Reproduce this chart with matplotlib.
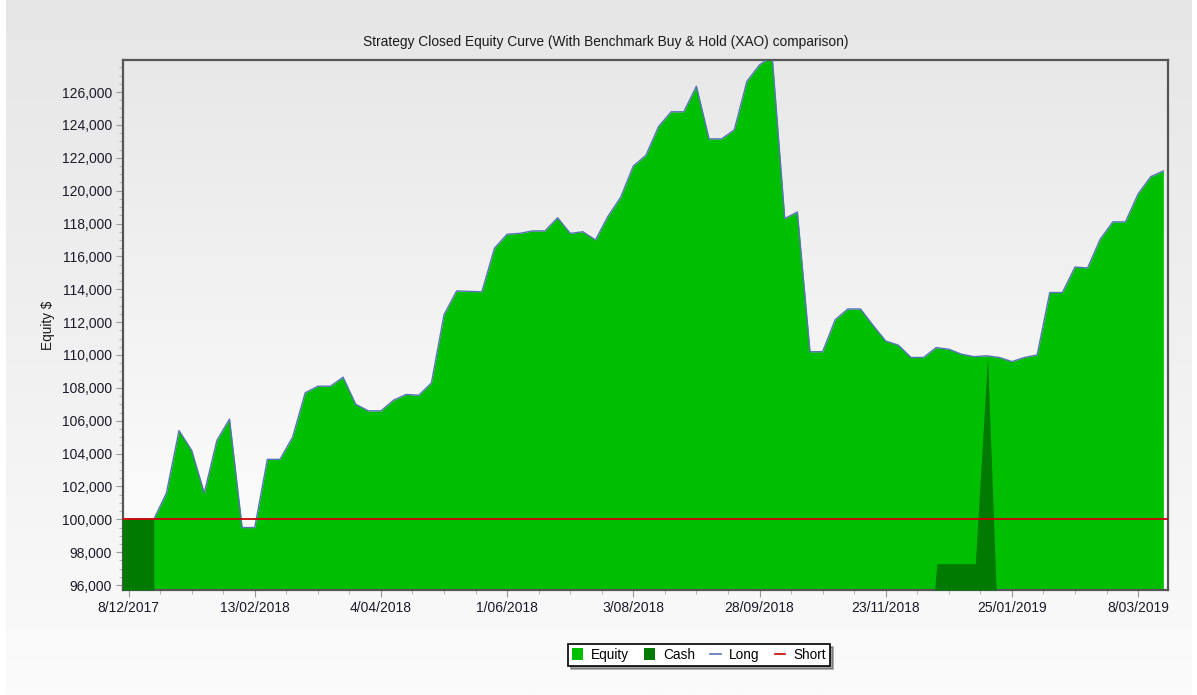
import numpy as np
import matplotlib
matplotlib.use("Agg")
import matplotlib.pyplot as plt
from matplotlib.colors import LinearSegmentedColormap
from matplotlib.patches import Patch
from matplotlib.lines import Line2D
from matplotlib.ticker import FuncFormatter, MultipleLocator

plt.rcParams['font.family'] = ['Liberation Sans', 'DejaVu Sans']

# 終値ベースのエクイティ（バー番号ごと）
equity = [
    100000, 100000, 100000, 101600, 105400, 104200, 101600, 104800, 106100, 99500,
    99500, 103650, 103650, 105000, 107700, 108100, 108100, 108650, 107000, 106600,
    106600, 107250, 107600, 107550, 108300, 112450, 113900, 113870, 113850, 116500,
    117350, 117400, 117550, 117550, 118350, 117400, 117500, 117000, 118450, 119600,
    121500, 122150, 123900, 124800, 124800, 126350, 123150, 123150, 123700, 126650,
    127650, 128200, 118300, 118700, 110200, 110200, 112150, 112800, 112800, 111800,
    110850, 110600, 109850, 109850, 110450, 110350, 110050, 109900, 109950, 109850,
    109600, 109850, 110000, 113800, 113800, 115350, 115300, 117050, 118100, 118100,
    119800, 120850, 121200,
]

Y_MIN, Y_MAX = 95700, 127950

# 現金（ポジションなし）の区間
cash_x = [-0.5, 2.0, 2.0, 63.87, 64.05, 67.1, 68.07, 68.75]
cash_v = [100000, 100000, Y_MIN, Y_MIN, 97300, 97300, 109900, Y_MIN]

short_level = 100000

tick_pos = [0, 10, 20, 30, 40, 50, 60, 70, 80]
tick_labels = ['8/12/2017', '13/02/2018', '4/04/2018', '1/06/2018', '3/08/2018',
               '28/09/2018', '23/11/2018', '25/01/2019', '8/03/2019']

EQ_GREEN = '#00bf00'
CASH_GREEN = '#007a00'
LONG_BLUE = '#5a72b8'
SHORT_RED = '#cc0000'

fig = plt.figure(figsize=(11.97, 6.95), dpi=100)

# 背景グラデーション
bg = fig.add_axes([0.005, 0, 0.99, 1], zorder=-10)
bg_cmap = LinearSegmentedColormap.from_list('bg', ['#fbfbfb', '#e6e6e6'])
bg.imshow(np.linspace(0, 1, 256).reshape(-1, 1), cmap=bg_cmap, aspect='auto',
          origin='lower', extent=[0, 1, 0, 1])
bg.axis('off')

ax = fig.add_axes([123 / 1197, 1 - 590 / 695, (1168 - 123) / 1197, (590 - 60) / 695])
x_left, x_right = -0.44, 82.37
ax.set_xlim(x_left, x_right)
ax.set_ylim(Y_MIN, Y_MAX)

plot_cmap = LinearSegmentedColormap.from_list('plot', ['#fefefe', '#e8e8e8'])
ax.imshow(np.linspace(0, 1, 256).reshape(-1, 1), cmap=plot_cmap, aspect='auto',
          origin='lower', extent=[x_left, x_right, Y_MIN, Y_MAX], zorder=0)

xs = np.arange(len(equity))
ax.fill_between(xs, equity, Y_MIN, color=EQ_GREEN, lw=0, zorder=2)
ax.plot(xs, equity, color=LONG_BLUE, lw=1.0, zorder=3)
ax.fill_between(cash_x, cash_v, Y_MIN, color=CASH_GREEN, lw=0, zorder=4)
ax.axhline(short_level, color=SHORT_RED, lw=1.3, zorder=5)

ax.set_xticks(tick_pos)
ax.set_xticklabels(tick_labels)
ax.xaxis.set_minor_locator(MultipleLocator(2.5))
ax.yaxis.set_major_locator(MultipleLocator(2000))
ax.yaxis.set_minor_locator(MultipleLocator(500))
ax.yaxis.set_major_formatter(FuncFormatter(lambda v, p: f'{int(v):,}'))
ax.tick_params(axis='both', which='major', length=5, color='#999999',
               labelsize=10, labelcolor='#1a1a2a', pad=3)
ax.tick_params(axis='both', which='minor', length=3, color='#aaaaaa')

for s in ax.spines.values():
    s.set_color('#555555')
    s.set_linewidth(1.6)

fig.text(0.5058, 1 - 42 / 695, 'Strategy Closed Equity Curve (With Benchmark Buy & Hold (XAO) comparison)',
         ha='center', va='center', fontsize=9.9, color='#1a1a1a')
fig.text(48 / 1197, 1 - 325 / 695, 'Equity $', rotation=90, ha='center', va='center',
         fontsize=9.8, color='#1a1a1a')

handles = [
    Patch(facecolor=EQ_GREEN, edgecolor='none', label='Equity'),
    Patch(facecolor=CASH_GREEN, edgecolor='none', label='Cash'),
    Line2D([0], [0], color=LONG_BLUE, lw=1.2, label='Long'),
    Line2D([0], [0], color=SHORT_RED, lw=1.2, label='Short'),
]
leg = fig.legend(handles=handles, loc='center', bbox_to_anchor=(699 / 1197, 1 - 655 / 695),
                 ncol=4, fontsize=9.8, frameon=True, fancybox=False, shadow=True,
                 edgecolor='black', handlelength=0.8, handleheight=1.0,
                 handletextpad=0.6, columnspacing=1.1, borderpad=0.3, borderaxespad=0)
leg.get_frame().set_linewidth(1.2)

plt.savefig('out.png', dpi=100)
